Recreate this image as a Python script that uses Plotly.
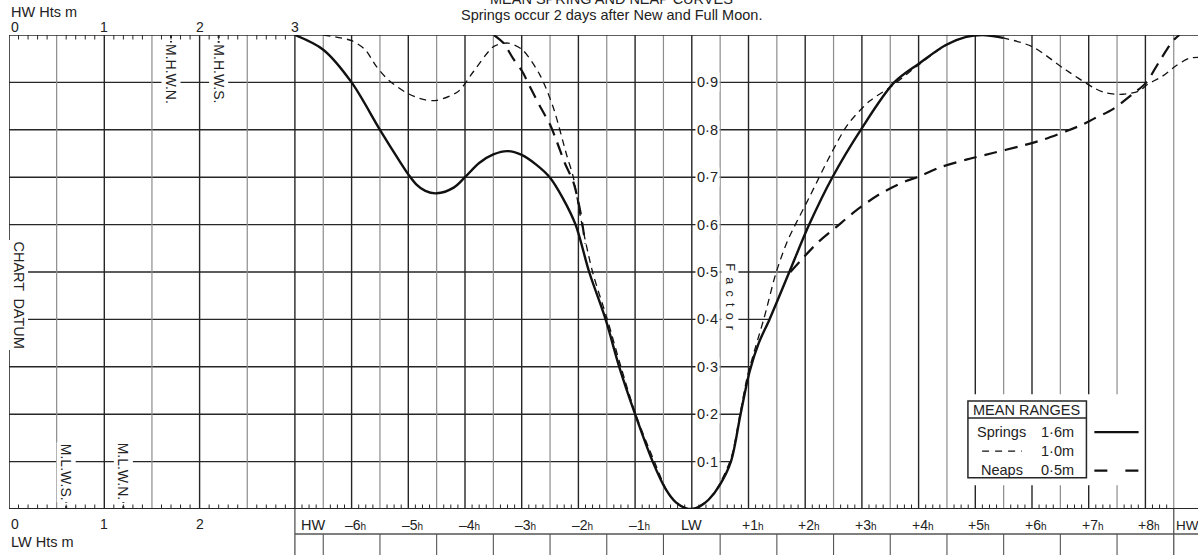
import numpy as np
import plotly.graph_objects as go

# Factor curves: time in hours from LW, factor of range
springs_t = [-7.0, -6.5, -6.0, -5.5, -5.16, -5.0, -4.86, -4.7, -4.5, -4.2, -4.0, -3.75, -3.5, -3.25,
             -3.0, -2.75, -2.5, -2.28, -2.05, -1.81, -1.52, -1.28, -1.0, -0.69, -0.46, -0.28,
             -0.11, 0.0, 0.15, 0.3, 0.49, 0.69, 0.86, 1.02, 1.18, 1.37, 1.72, 2.07, 2.48, 2.98, 3.57,
             4.01, 4.48, 4.84, 5.13, 5.49]
springs_f = [1.0, 0.969, 0.90, 0.80, 0.735, 0.706, 0.685, 0.671, 0.666, 0.678, 0.70, 0.73, 0.748, 0.755,
             0.747, 0.727, 0.699, 0.657, 0.60, 0.50, 0.40, 0.30, 0.20, 0.10, 0.042, 0.014,
             0.002, 0.0, 0.006, 0.02, 0.05, 0.10, 0.20, 0.29, 0.35, 0.40, 0.50, 0.60, 0.70, 0.80, 0.90,
             0.94, 0.979, 0.996, 1.0, 0.994]

mid_t = [-6.5, -6.0, -5.76, -5.57, -5.35, -5.03, -4.74, -4.5, -4.12, -3.85, -3.49, -3.24, -2.99,
         -2.68, -2.44, -2.21, -2.09, -1.97, -1.75, -1.49, -1.25, -0.99, -0.66, -0.4, -0.2, 0.0,
         0.3, 0.5, 0.7, 0.85, 0.98, 1.12, 1.28, 1.48, 1.69, 2.07, 2.45, 2.75, 3.13, 3.51, 4.01,
         4.48, 4.84, 5.13, 5.49, 6.01, 6.6, 7.1, 7.3, 7.6, 7.89, 8.04, 8.3, 8.54, 8.77, 8.93]
mid_f = [1.0, 0.988, 0.969, 0.935, 0.905, 0.878, 0.864, 0.862, 0.881, 0.923, 0.976, 0.983, 0.969,
         0.916, 0.846, 0.748, 0.70, 0.62, 0.5, 0.4, 0.3, 0.2, 0.1, 0.03, 0.007, 0.0,
         0.02, 0.055, 0.11, 0.2, 0.28, 0.34, 0.405, 0.496, 0.566, 0.657, 0.748, 0.811, 0.86, 0.891, 0.938,
         0.978, 0.996, 1.0, 0.994, 0.975, 0.926, 0.888, 0.878, 0.875, 0.882, 0.896, 0.913, 0.935, 0.951, 0.953]

neap_ebb_t = [-3.49, -3.32, -3.15, -3.0, -2.85, -2.68, -2.5, -2.38, -2.24, -2.09, -1.97, -1.88]
neap_ebb_f = [1.0, 0.983, 0.95, 0.925, 0.89, 0.85, 0.811, 0.775, 0.73, 0.69, 0.63, 0.56]
neap_flood_t = [1.74, 1.92, 2.22, 2.54, 2.89, 3.31, 3.78, 3.98, 4.36, 4.84, 5.31, 5.78, 6.19,
                6.6, 6.89, 7.07, 7.42, 7.77, 8.01, 8.25, 8.48, 8.6]
neap_flood_f = [0.5, 0.524, 0.562, 0.594, 0.629, 0.664, 0.692, 0.70, 0.72, 0.737, 0.751, 0.765, 0.779,
                0.797, 0.811, 0.822, 0.843, 0.875, 0.899, 0.945, 0.987, 1.0]

hour_ticks = [-6, -5, -4, -3, -2, -1, 0, 1, 2, 3, 4, 5, 6, 7, 8]
hour_labels = ["–6", "–5", "–4", "–3", "–2", "–1", "LW", "+1", "+2", "+3", "+4", "+5", "+6", "+7", "+8"]
factor_ticks = [0.1, 0.2, 0.3, 0.4, 0.5, 0.6, 0.7, 0.8, 0.9]
factor_labels = ["0·1", "0·2", "0·3", "0·4", "0·5", "0·6", "0·7", "0·8", "0·9"]
height_ticks = [0, 1, 2, 3]
hw_level_names = ["M.H.W.N.", "M.H.W.S."]
hw_level_m = [1.7, 2.2]
lw_level_names = ["M.L.W.S.", "M.L.W.N."]
lw_level_m = [0.6, 1.2]
range_names = ["Springs", "", "Neaps"]
range_values = ["1·6m", "1·0m", "0·5m"]

# geometry
W, H = 1198, 555
L, T, B = 9, 35, 46
PX_H = 56.7   # pixels per hour
PX_M = 95.3   # pixels per metre
HW_T = -7.0   # 3 m line sits at HW (-7h)
PLOT_H = H - T - B
FONT = "Liberation Sans, Arial, sans-serif"
DARK = "#262626"
GREY = "#8c8c8c"


def m2t(m):
    return HW_T - (3 - m) * PX_M / PX_H


T0 = m2t(0)
T1 = T0 + (W - L) / PX_H


def py(p):
    return (H - B - p) / PLOT_H


shapes = []


def seg(x0, y0, x1, y1, color=DARK, width=1.4, yref="y", dash=None, layer="below"):
    shapes.append(dict(type="line", xref="x", yref=yref, x0=x0, y0=y0, x1=x1, y1=y1,
                       line=dict(color=color, width=width, dash=dash), layer=layer))


# horizontal factor lines stop at the rising curves
rise = [i for i, t in enumerate(springs_t) if 0 <= t <= 5.13]
rise_t = [springs_t[i] for i in rise]
rise_f = [springs_f[i] for i in rise]
for f in factor_ticks:
    end = np.interp(f, rise_f, rise_t)
    if f >= neap_flood_f[0]:
        end = max(end, np.interp(f, neap_flood_f, neap_flood_t))
    seg(T0, f, end, f, width=1.4)

# vertical lines: heights
for k in range(1, 7):
    m = k * 0.5
    seg(m2t(m), 0, m2t(m), 1, color=DARK if m % 1 == 0 else GREY, width=1.4 if m % 1 == 0 else 1.2)
# vertical lines: time
for k in range(-13, 18):
    t = k * 0.5
    seg(t, 0, t, 1, color=DARK if t % 1 == 0 else GREY, width=1.4 if t % 1 == 0 else 1.2)

# ticks
tk = 4.5 / PLOT_H
for i in range(1, 30):
    if i % 5:
        x = m2t(i / 10)
        seg(x, 1, x, 1 - tk, width=1)
        seg(x, 0, x, tk, width=1)
for t in np.arange(HW_T, 8.5, 0.125):
    if abs(t * 2 - round(t * 2)) > 1e-6:
        seg(t, 0, t, tk, width=1)

# level markers
for m in hw_level_m:
    seg(m2t(m), 1, m2t(m), 1 - 9 / PLOT_H, width=2, dash="dot")
for m in lw_level_m:
    seg(m2t(m), 0, m2t(m), 9 / PLOT_H, width=2, dash="dot")

# frame
seg(T0, 1, T1, 1, width=1.6)
seg(T0, 0, T1, 0, width=1.8)
seg(T0, 0, T0, 1, width=1.6)

# table below the time axis
seg(HW_T, py(534), T1, py(534), color="#555", width=1.3, yref="paper")
seg(HW_T, 0, HW_T, py(H), color="#555", width=1.3, yref="paper")
seg(8.5, 0, 8.5, py(H), color="#555", width=1.3, yref="paper")
for k in range(-7, 8):
    seg(k + 0.5, py(534), k + 0.5, py(H), color="#555", width=1.1, yref="paper")

# legend block
shapes.append(dict(type="rect", xref="x", yref="y", x0=4.78, x1=7.95, y0=0.05, y1=0.242,
                   fillcolor="white", line=dict(width=0), layer="above"))
shapes.append(dict(type="rect", xref="x", yref="y", x0=4.87, x1=6.96, y0=0.066, y1=0.228,
                   fillcolor="white", line=dict(color=DARK, width=1.5), layer="above"))
seg(4.87, 0.192, 6.96, 0.192, width=1.5, layer="above")
seg(7.1, 0.162, 7.88, 0.162, color="#111", width=2.2, layer="above")
seg(5.12, 0.122, 5.82, 0.122, color="#111", width=1.3, dash="7px,6px", layer="above")
seg(7.1, 0.081, 7.88, 0.081, color="#111", width=2.2, dash="13px,18px", layer="above")

fig = go.Figure()
fig.add_trace(go.Scatter(x=springs_t, y=springs_f, mode="lines", name="Springs",
                         line=dict(color="#111", width=2.4, shape="spline", smoothing=0.9)))
fig.add_trace(go.Scatter(x=mid_t, y=mid_f, mode="lines", name="1·0m",
                         line=dict(color="#111", width=1.3, dash="7px,5px", shape="spline", smoothing=0.8)))
fig.add_trace(go.Scatter(x=neap_ebb_t, y=neap_ebb_f, mode="lines", name="Neaps",
                         line=dict(color="#111", width=2.2, dash="13px,8px", shape="spline", smoothing=0.8)))
fig.add_trace(go.Scatter(x=neap_flood_t, y=neap_flood_f, mode="lines", showlegend=False,
                         line=dict(color="#111", width=2.2, dash="13px,8px", shape="spline", smoothing=0.8)))

ann = []


def text(s, x, y, size=14.5, xref="x", yref="paper", xanchor="center", angle=0, bg=None, xshift=0):
    ann.append(dict(text=s, x=x, y=y, xref=xref, yref=yref, xanchor=xanchor, yanchor="middle",
                    showarrow=False, textangle=angle, xshift=xshift,
                    bgcolor=bg, borderpad=1, font=dict(family=FONT, size=size, color="#222")))


text("MEAN SPRING AND NEAP CURVES", (611 - L) / (W - L), py(-1), xref="paper")
text("Springs occur 2 days after New and Full Moon.", (611 - L) / (W - L), py(15), xref="paper")
text("HW Hts m", 0, py(12), xref="paper", xanchor="left")
text("LW Hts m", 0, py(542), xref="paper", xanchor="left")
for m in height_ticks:
    anchor = "left" if m == 0 else "center"
    text(str(m), m2t(m), py(27), xanchor=anchor, size=14)
    if m < 3:
        text(str(m), m2t(m), py(524), xanchor=anchor, size=14)

for t, lab in zip(hour_ticks, hour_labels):
    if lab == "LW":
        text(lab, t, py(525))
    else:
        text(lab + "<span style='font-size:10px'>h</span>", t, py(525), xshift=4, size=14)
text("HW", HW_T + 0.07, py(525), xanchor="left")
text("HW", 8.5, py(525), xanchor="left", size=13.5)

for f, lab in zip(factor_ticks, factor_labels):
    text(lab, 0.27, f, yref="y", bg="white", size=14.5)
text("F\u2002a\u2002c\u2002t\u2002o\u2002r", 0.67, 0.447, yref="y", angle=90, bg="white", size=12.5)
text("CHART\u2002DATUM", m2t(0.1), py(295), angle=90, bg="white")

for name, m in zip(hw_level_names, hw_level_m):
    text(name, m2t(m), py(74), angle=90, bg="white", size=14)
for name, m in zip(lw_level_names, lw_level_m):
    text(name, m2t(m), py(472), angle=90, bg="white", size=14)

text("MEAN RANGES", 5.91, 0.209, yref="y")
for i, (nm, val) in enumerate(zip(range_names, range_values)):
    yy = [0.162, 0.122, 0.082][i]
    if nm:
        text(nm, 5.47, yy, yref="y")
    text(val, 6.45, yy, yref="y")

fig.update_layout(
    width=W, height=H,
    margin=dict(l=L, r=0, t=T, b=B),
    paper_bgcolor="white", plot_bgcolor="white",
    showlegend=False,
    xaxis=dict(range=[T0, T1], visible=False, fixedrange=True),
    yaxis=dict(range=[0, 1], visible=False, fixedrange=True),
    shapes=shapes,
    annotations=ann,
)

fig.write_html("out.html", config={"displayModeBar": False},
               post_script="document.body.style.margin='0px';")
